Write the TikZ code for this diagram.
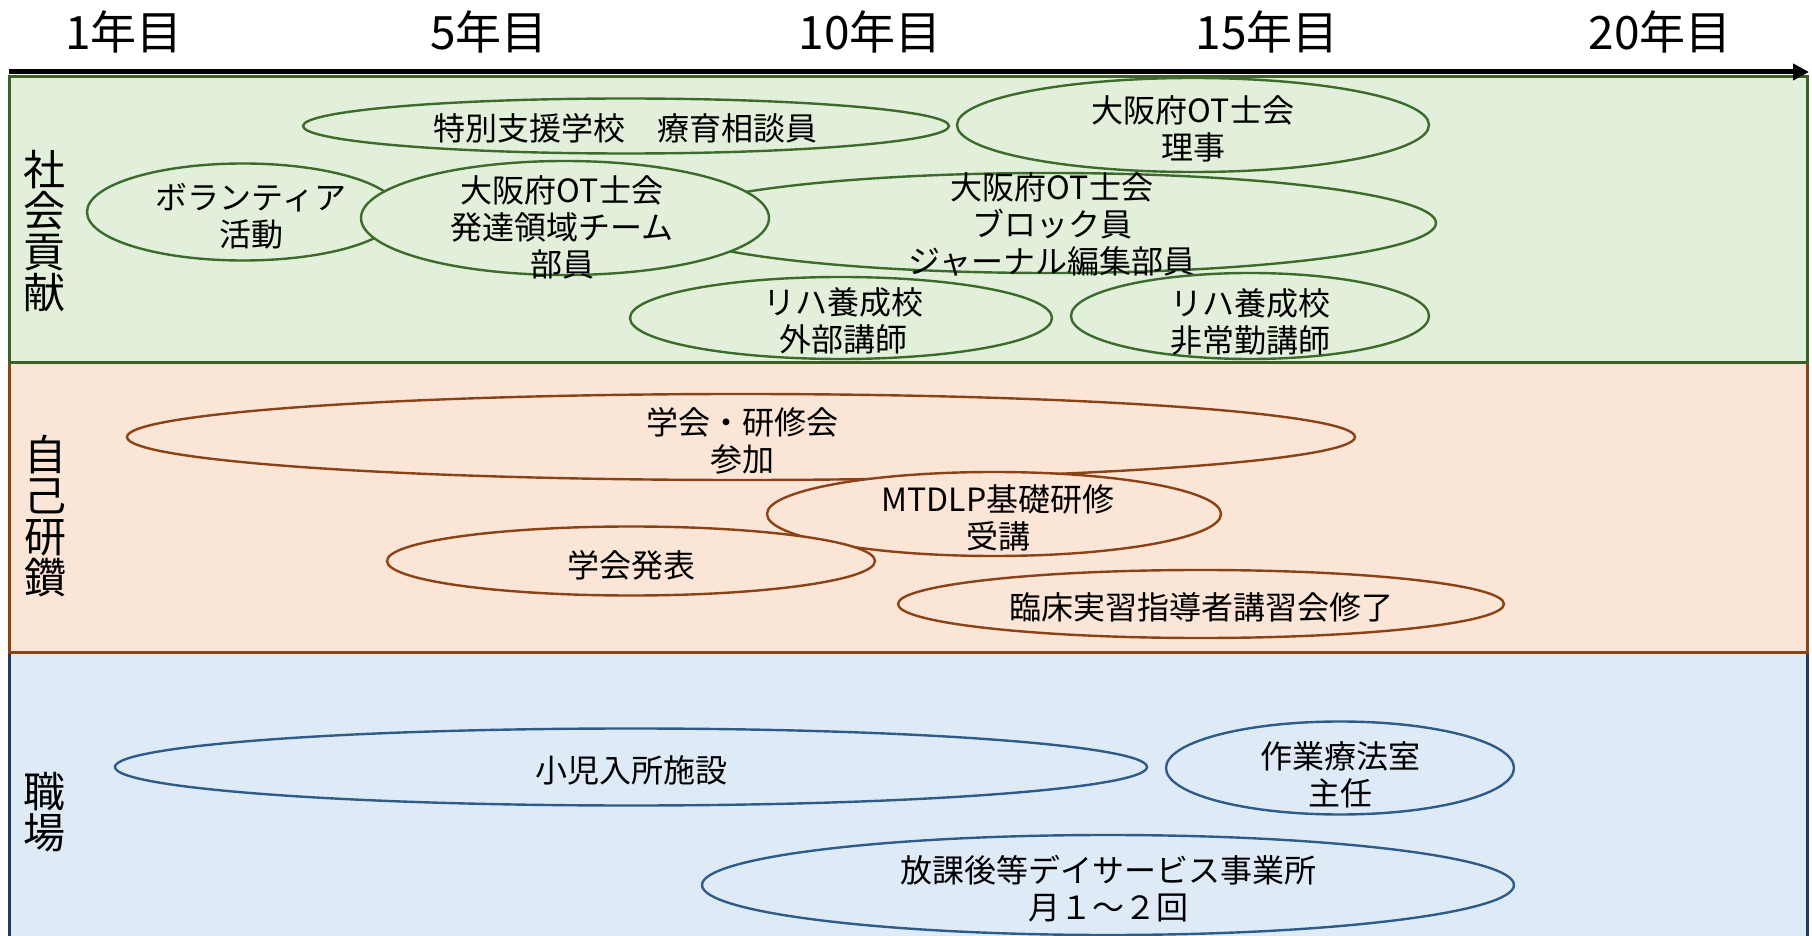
\documentclass[tikz,border=0pt]{standalone}
\usepackage{fontspec}
\setmainfont{Noto Sans CJK JP}
\usetikzlibrary{shapes.geometric,arrows.meta}
\definecolor{gbg}{HTML}{E2EFDA}
\definecolor{gbd}{HTML}{3A5F27}
\definecolor{gel}{HTML}{3D6B2B}
\definecolor{obg}{HTML}{FBE5D6}
\definecolor{obd}{HTML}{8B4513}
\definecolor{oel}{HTML}{8B4214}
\definecolor{bbg}{HTML}{DEEBF7}
\definecolor{bbd}{HTML}{1F3864}
\definecolor{bel}{HTML}{2E5B88}
\begin{document}
\begin{tikzpicture}[x=0.5pt,y=-0.5pt,
  ellbase/.style={ellipse, line width=1.2pt, inner sep=0pt, outer sep=0pt},
  ellG/.style={ellbase, draw=gel, fill=gbg},
  ellO/.style={ellbase, draw=oel, fill=obg},
  ellB/.style={ellbase, draw=bel, fill=bbg},
  lbl/.style={align=center, font=\fontsize{16}{18.5}\selectfont, inner sep=0pt},
  yr/.style={font=\fontsize{23}{23}\selectfont, inner sep=0pt},
  rowlbl/.style={align=center, font=\fontsize{21}{20.5}\selectfont, inner sep=0pt},
  band/.style={line width=1.5pt}]
\useasboundingbox (0,0) rectangle (1812,936);
\clip (0,0) rectangle (1812,936);
\fill[white] (0,0) rectangle (1812,936);
% bands
\draw[band, draw=bbd, fill=bbg] (9,652) rectangle (1807,980);
\draw[band, draw=obd, fill=obg] (9,363) rectangle (1807,652);
\draw[band, draw=gbd, fill=gbg] (9,77) rectangle (1807,363);
% axis
\coordinate (a0) at (9,72);
\coordinate (a1) at (1809,72);
\draw[line width=2.5pt, -{Triangle[length=8pt,width=8pt]}] (a0) -- (a1);
% years
\node[yr] (y1) at (124,32) {1年目};
\node[yr] (y5) at (489,32) {5年目};
\node[yr] (y10) at (870,32) {10年目};
\node[yr] (y15) at (1267,32) {15年目};
\node[yr] (y20) at (1660,32) {20年目};
% row labels
\node[rowlbl] (r1) at (45,231) {社\\会\\貢\\献};
\node[rowlbl] (r2) at (46,516) {自\\己\\研\\鑽};
\node[rowlbl] (r3) at (45,812) {職\\場};
% green row
\node[ellG, minimum width=323pt, minimum height=27.5pt] (e1) at (626,126) {};
\node[lbl] (t1) at (625,128) {特別支援学校　療育相談員};
\node[ellG, minimum width=236pt, minimum height=47pt] (e2) at (1193,125) {};
\node[lbl] (t2) at (1193,128.5) {大阪府OT士会\\理事};
\node[ellG, minimum width=156pt, minimum height=48.5pt] (e3) at (243,212) {};
\node[lbl] (t3) at (251,216) {ボランティア\\活動};
\node[ellG, minimum width=387pt, minimum height=50pt] (e5) at (1049,223) {};
\node[lbl] (t5) at (1052,225) {大阪府OT士会\\ブロック員\\ジャーナル編集部員};
\node[ellG, minimum width=204pt, minimum height=57pt] (e4) at (565,218) {};
\node[lbl] (t4) at (562,227) {大阪府OT士会\\発達領域チーム\\部員};
\node[ellG, minimum width=211pt, minimum height=41pt] (e6) at (841,318) {};
\node[lbl] (t6) at (843,321) {リハ養成校\\外部講師};
\node[ellG, minimum width=179pt, minimum height=43pt] (e7) at (1250,316) {};
\node[lbl] (t7) at (1250,322) {リハ養成校\\非常勤講師};
% orange row
\node[ellO, minimum width=614pt, minimum height=43pt] (e8) at (741,437) {};
\node[lbl] (t8) at (742,441) {学会・研修会\\参加};
\node[ellO, minimum width=227pt, minimum height=42pt] (e9) at (994,514) {};
\node[lbl] (t9) at (998,518) {MTDLP基礎研修\\受講};
\node[ellO, minimum width=244pt, minimum height=34.5pt] (e10) at (631,561) {};
\node[lbl] (t10) at (631,565) {学会発表};
\node[ellO, minimum width=303pt, minimum height=34pt] (e11) at (1201,604) {};
\node[lbl] (t11) at (1201,607) {臨床実習指導者講習会修了};
% blue row
\node[ellB, minimum width=516pt, minimum height=38.5pt] (e12) at (631,767) {};
\node[lbl] (t12) at (631,770) {小児入所施設};
\node[ellB, minimum width=174pt, minimum height=46.5pt] (e13) at (1340,768) {};
\node[lbl] (t13) at (1340,775) {作業療法室\\主任};
\node[ellB, minimum width=406pt, minimum height=50pt] (e14) at (1108,885) {};
\node[lbl] (t14) at (1108,888.5) {放課後等デイサービス事業所\\月１～２回};
\end{tikzpicture}
\end{document}
